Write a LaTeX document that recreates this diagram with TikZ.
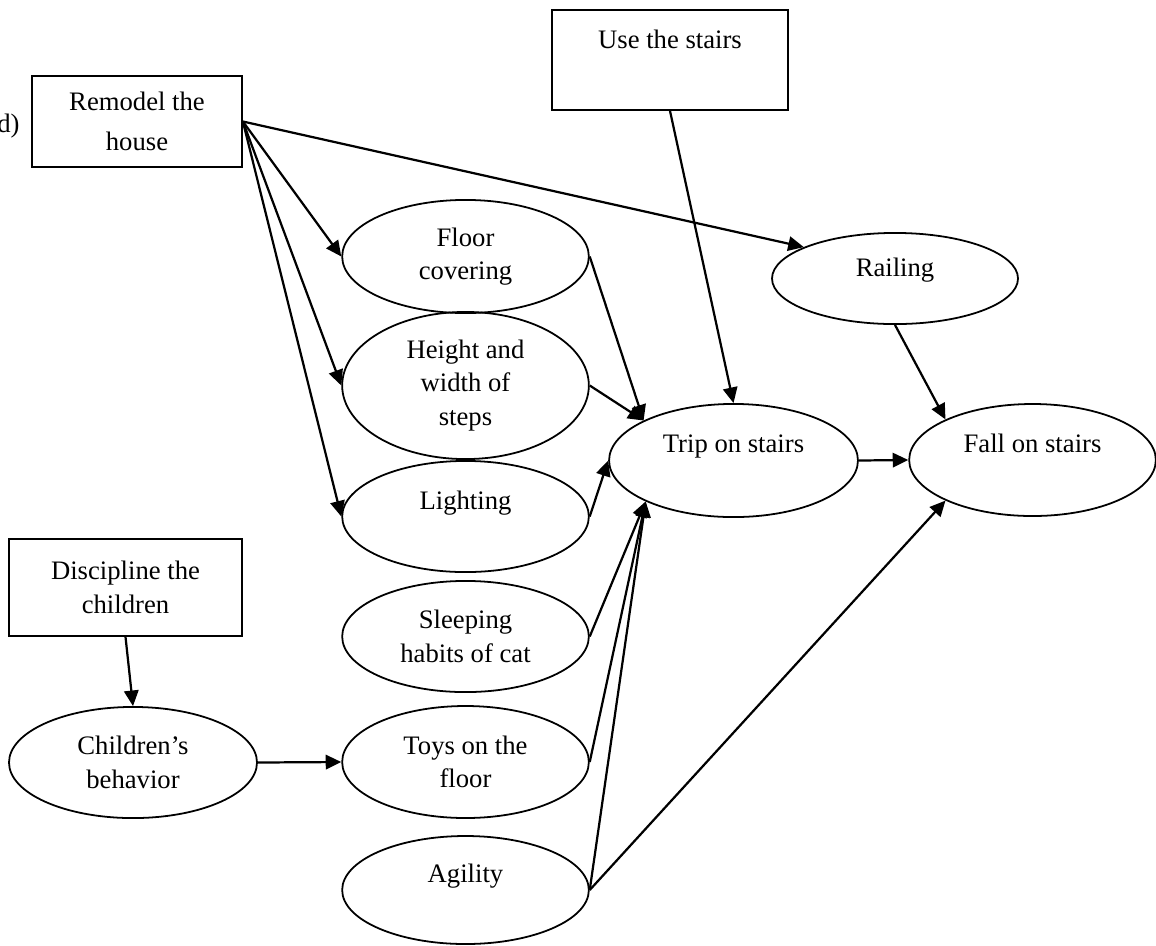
\documentclass[tikz,border=0pt]{standalone}
\usepackage{fontspec}
\setmainfont{Liberation Serif}
\usepackage{tikz}
\usetikzlibrary{shapes,arrows,positioning,calc,arrows.meta}

\tikzset{
  decision/.style={draw, line width=0.8pt, rectangle, align=center, inner sep=0pt},
  chance/.style={draw, line width=0.8pt, ellipse, align=center, inner sep=0pt, minimum width=111pt},
  link/.style={line width=1pt, -{Triangle[length=7pt,width=6.5pt]}},
}

\begin{document}
\begin{tikzpicture}[x=0.45pt, y=-0.45pt, font=\fontsize{12}{15}\selectfont]
    \useasboundingbox (0,0) rectangle (1156,945);

    % Decisions
    \node[anchor=base east, inner sep=0pt] (tag) at (20,132) {(d)};
    \node[decision, minimum width=94.5pt, minimum height=41pt] (remodel) at (137,121.5) {Remodel the\\[3pt]house};
    \node[decision, minimum width=106.2pt, minimum height=45pt] (usestairs) at (670,60) {Use the stairs\\[4pt]\mbox{}};
    \node[decision, minimum width=104.9pt, minimum height=43.6pt] (discipline) at (125.5,587.5) {Discipline the\\children};

    % Chance nodes
    \node[chance, minimum height=50.9pt] (floor) at (465.5,256.5) {Floor\\covering};
    \node[chance, minimum height=66.2pt] (steps) at (465.5,385.5) {Height and\\width of\\steps};
    \node[chance, minimum height=50pt] (lighting) at (465.5,516.5) {Lighting\\\mbox{}};
    \node[chance, minimum height=50pt] (cat) at (465.5,636.5) {Sleeping\\habits of cat};
    \node[chance, minimum height=50.4pt] (toys) at (465.5,762) {Toys on the\\floor};
    \node[chance, minimum height=48.6pt] (agility) at (465.5,890) {Agility\\\mbox{}};
    \node[chance, minimum height=50pt, minimum width=111.6pt] (behavior) at (133,762.5) {Children's\\behavior};
    \node[chance, minimum height=50.9pt, minimum width=112pt] (trip) at (733.5,460.5) {Trip on stairs\\\mbox{}};
    \node[chance, minimum height=50.4pt] (fall) at (1032.5,460) {Fall on stairs\\\mbox{}};
    \node[chance, minimum height=41pt, minimum width=110.7pt, text depth=10pt] (railing) at (895,278.5) {Railing};

    % Influences
    \draw[link] (remodel.east) -- (floor.west);
    \draw[link] (remodel.east) -- (steps.west);
    \draw[link] (remodel.east) -- (lighting.west);
    \draw[link] (remodel.east) -- (railing.161);
    \draw[link] (usestairs.south) -- (trip.north);
    \draw[link] (discipline.south) -- (behavior.north);
    \draw[link] (behavior.east) -- (toys.west);
    \draw[link] (floor.east) -- (trip.156);
    \draw[link] (steps.east) -- (trip.156);
    \draw[link] (lighting.east) -- (trip.west);
    \draw[link] (cat.east) -- (trip.205);
    \draw[link] (toys.east) -- (trip.205);
    \draw[link] (agility.east) -- (trip.205);
    \draw[link] (trip.east) -- (fall.west);
    \draw[link] (railing.south) -- (fall.155);
    \draw[link] (agility.east) -- (fall.205);
\end{tikzpicture}
\end{document}
